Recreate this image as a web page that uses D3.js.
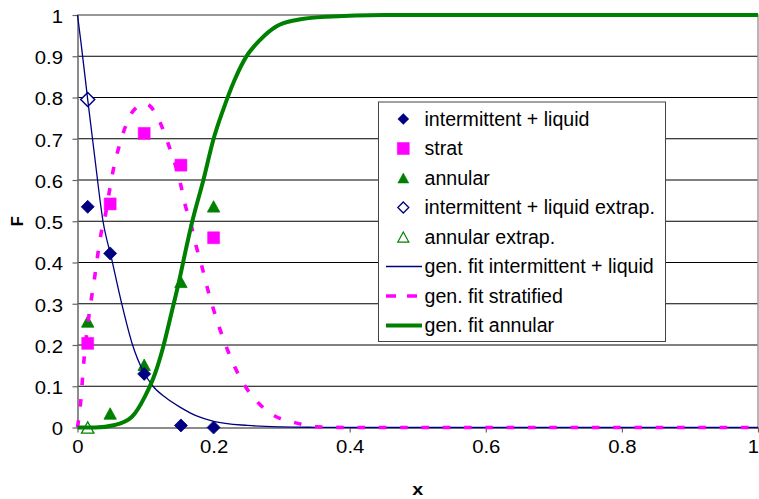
<!DOCTYPE html>
<html>
<head>
<meta charset="utf-8">
<script src="https://cdn.jsdelivr.net/npm/d3@7"></script>
<style>
  body { margin: 0; background: #fff; }
  svg { display: block; }
  text { font-family: "Liberation Sans", Arial, sans-serif; fill: #000; }
</style>
</head>
<body>
<svg id="chart" width="759" height="499"></svg>
<script>
// ---- measured points ----
const markerX = [0.015, 0.048, 0.098, 0.152, 0.2];
const intermittent = [0.535, 0.422, 0.13, 0.005, 0];
const strat = [0.204, 0.542, 0.713, 0.636, 0.46];
const annular = [0.257, 0.034, 0.152, 0.353, 0.536];

const extrapX = [0.015];
const intermittentExtrap = [0.795];
const annularExtrap = [0];

// ---- generalised fit curves ----
const fitIntermittentX = [0, 0.005, 0.015, 0.025, 0.0375, 0.05, 0.065, 0.08, 0.097, 0.111, 0.13, 0.15, 0.175, 0.2, 0.25, 0.3, 0.35, 0.4, 0.5, 1];
const fitIntermittentY = [1, 0.935, 0.795, 0.66, 0.5, 0.41, 0.3, 0.205, 0.135, 0.1, 0.072, 0.05, 0.028, 0.015, 0.005, 0.0015, 0.0005, 0, 0, 0];

const fitStratX = [0, 0.0012, 0.0047, 0.0095, 0.0208, 0.0257, 0.0297, 0.0345, 0.0414, 0.0466, 0.052, 0.06, 0.069, 0.082, 0.1, 0.122, 0.133, 0.1515, 0.158, 0.1667, 0.174, 0.1824, 0.19, 0.199, 0.2085, 0.219, 0.231, 0.2456, 0.2655, 0.29, 0.319, 0.35, 0.4, 1];
const fitStratY = [0, 0.014, 0.063, 0.164, 0.317, 0.37, 0.418, 0.469, 0.519, 0.57, 0.62, 0.675, 0.723, 0.768, 0.785, 0.737, 0.689, 0.59, 0.541, 0.493, 0.442, 0.393, 0.343, 0.291, 0.242, 0.194, 0.147, 0.102, 0.06, 0.028, 0.012, 0.002, 0, 0];

const fitAnnularX = [0, 0.026, 0.055, 0.08, 0.099, 0.114, 0.126, 0.138, 0.15, 0.158, 0.168, 0.185, 0.2, 0.214, 0.231, 0.248, 0.268, 0.292, 0.322, 0.366, 0.45, 1];
const fitAnnularY = [0, 0, 0.006, 0.026, 0.075, 0.131, 0.196, 0.277, 0.36, 0.422, 0.495, 0.6, 0.7, 0.77, 0.843, 0.899, 0.939, 0.972, 0.988, 0.996, 1, 1];

// ---- axes ----
const xTicks = [0, 0.2, 0.4, 0.6, 0.8, 1];
const xTickLabels = ["0", "0.2", "0.4", "0.6", "0.8", "1"];
const yTicks = [0, 0.1, 0.2, 0.3, 0.4, 0.5, 0.6, 0.7, 0.8, 0.9, 1];
const yTickLabels = ["0", "0.1", "0.2", "0.3", "0.4", "0.5", "0.6", "0.7", "0.8", "0.9", "1"];

const legendLabels = [
  "intermittent + liquid",
  "strat",
  "annular",
  "intermittent + liquid extrap.",
  "annular extrap.",
  "gen. fit intermittent + liquid",
  "gen. fit stratified",
  "gen. fit annular"
];

const NAVY = "#000080", MAGENTA = "#ff00ff", GREEN = "#008000";

const svg = d3.select("#chart");
const x = d3.scaleLinear().domain([0, 1]).range([77.5, 758]);
const y = d3.scaleLinear().domain([0, 1]).range([427.5, 15]);

// horizontal gridlines
svg.append("g").selectAll("line")
  .data(yTicks.filter(t => t > 0))
  .join("line")
  .attr("x1", x(0)).attr("x2", x(1))
  .attr("y1", d => y(d)).attr("y2", d => y(d))
  .attr("stroke", "#000").attr("stroke-width", 1);

// plot area frame (top and right)
svg.append("path")
  .attr("d", `M${x(0)},${y(1)}H${x(1)}V${y(0)}`)
  .attr("fill", "none").attr("stroke", "#a0a0a0").attr("stroke-width", 1.5);

const TSX = 1.16;
// y axis
const yAxis = svg.append("g")
  .attr("transform", `translate(${x(0)},0)`)
  .call(d3.axisLeft(y).tickValues(yTicks).tickSize(5).tickSizeOuter(0)
    .tickFormat((d, i) => yTickLabels[i]));
yAxis.select(".domain").attr("stroke", "#666").attr("stroke-width", 1.5);
yAxis.selectAll(".tick line").attr("stroke", "#666").attr("stroke-width", 1.2);
yAxis.selectAll(".tick text")
  .attr("font-size", 17.5).attr("font-family", null)
  .attr("x", -14.5 / TSX).attr("dy", "0.42em")
  .attr("transform", `scale(${TSX},1)`);

// x axis
const xAxis = svg.append("g")
  .attr("transform", `translate(0,${y(0)})`)
  .call(d3.axisBottom(x).tickValues(xTicks).tickSize(5).tickSizeOuter(0)
    .tickFormat((d, i) => xTickLabels[i]));
xAxis.select(".domain").attr("stroke", "#666").attr("stroke-width", 1.5);
xAxis.selectAll(".tick line").attr("stroke", "#666").attr("stroke-width", 1.2);
xAxis.selectAll(".tick text")
  .attr("font-size", 17.5).attr("font-family", null)
  .attr("y", 26).attr("dy", 0)
  .attr("transform", `scale(${TSX},1)`);
// the last label sits against the right edge of the page; keep it inside
xAxis.selectAll(".tick text")
  .filter(d => d === 1)
  .attr("text-anchor", "end")
  .attr("x", 0.5 / TSX);

// axis titles
svg.append("text")
  .attr("transform", `translate(23,${(y(0) + y(1)) / 2}) rotate(-90)`)
  .attr("text-anchor", "middle")
  .attr("font-size", 16.5).attr("font-weight", "bold")
  .text("F");
svg.append("text")
  .attr("transform", `translate(${(x(0) + x(1)) / 2},495) scale(${TSX},1)`)
  .attr("text-anchor", "middle")
  .attr("font-size", 17).attr("font-weight", "bold")
  .text("x");

// marker shapes
const diamondType = {
  draw(ctx, r) { ctx.moveTo(0, -r); ctx.lineTo(r, 0); ctx.lineTo(0, r); ctx.lineTo(-r, 0); ctx.closePath(); }
};
const squareType = {
  draw(ctx, r) { ctx.rect(-r, -r, 2 * r, 2 * r); }
};
const triangleType = {
  draw(ctx, r) { ctx.moveTo(0, -r * 0.92); ctx.lineTo(r, r * 0.92); ctx.lineTo(-r, r * 0.92); ctx.closePath(); }
};
const shape = (type, r) => d3.symbol().type(type).size(r)();

function drawMarkers(xs, ys, type, r, fill, stroke, sw) {
  svg.append("g").selectAll("path")
    .data(xs.map((v, i) => [v, ys[i]]))
    .join("path")
    .attr("transform", d => `translate(${x(d[0])},${y(d[1])})`)
    .attr("d", shape(type, r))
    .attr("fill", fill).attr("stroke", stroke).attr("stroke-width", sw);
}

drawMarkers(markerX, annular, triangleType, 6.2, GREEN, GREEN, 0.8);
drawMarkers(markerX, intermittent, diamondType, 6.5, NAVY, NAVY, 0.8);
drawMarkers(markerX, strat, squareType, 6, MAGENTA, MAGENTA, 0.5);
drawMarkers(extrapX, intermittentExtrap, diamondType, 7, "#fff", NAVY, 1.5);
drawMarkers(extrapX, annularExtrap, triangleType, 6.2, "none", GREEN, 1.3);

// fit curves
const line = d3.line().x(d => x(d[0])).y(d => y(d[1])).curve(d3.curveMonotoneX);
const zipXY = (xs, ys) => xs.map((v, i) => [v, ys[i]]);

svg.append("path").datum(zipXY(fitIntermittentX, fitIntermittentY))
  .attr("d", line).attr("fill", "none")
  .attr("stroke", NAVY).attr("stroke-width", 1.3);
svg.append("path").datum(zipXY(fitStratX, fitStratY))
  .attr("d", line).attr("fill", "none")
  .attr("stroke", MAGENTA).attr("stroke-width", 3.6)
  .attr("stroke-dasharray", "7.5 13.8");
svg.append("path").datum(zipXY(fitAnnularX, fitAnnularY))
  .attr("d", line).attr("fill", "none")
  .attr("stroke", GREEN).attr("stroke-width", 4);

// legend
const lg = svg.append("g");
lg.append("rect")
  .attr("x", 378.5).attr("y", 102).attr("width", 287).attr("height", 239.5)
  .attr("fill", "#fff").attr("stroke", "#444").attr("stroke-width", 1);

const legendKinds = [
  { type: diamondType, r: 5.5, fill: NAVY, stroke: NAVY, sw: 0.5 },
  { type: squareType, r: 6, fill: MAGENTA, stroke: MAGENTA, sw: 0.5 },
  { type: triangleType, r: 5.5, fill: GREEN, stroke: GREEN, sw: 0.5 },
  { type: diamondType, r: 5.5, fill: "#fff", stroke: NAVY, sw: 1.3 },
  { type: triangleType, r: 5.5, fill: "none", stroke: GREEN, sw: 1.2 },
  { line: NAVY, w: 1.3 },
  { line: MAGENTA, w: 3.6, dash: "10 11" },
  { line: GREEN, w: 4 }
];

const rowY = i => 119 + i * 29.5;
legendLabels.forEach((label, i) => {
  const k = legendKinds[i];
  const cy = rowY(i);
  if (k.type) {
    lg.append("path")
      .attr("transform", `translate(403.3,${cy})`)
      .attr("d", shape(k.type, k.r))
      .attr("fill", k.fill).attr("stroke", k.stroke).attr("stroke-width", k.sw);
  } else {
    lg.append("line")
      .attr("x1", 386).attr("x2", 422).attr("y1", cy).attr("y2", cy)
      .attr("stroke", k.line).attr("stroke-width", k.w)
      .attr("stroke-dasharray", k.dash || null);
  }
  lg.append("text")
    .attr("x", 424.5).attr("y", cy + 6.5)
    .attr("font-size", 19.6)
    .text(label);
});
</script>
</body>
</html>
